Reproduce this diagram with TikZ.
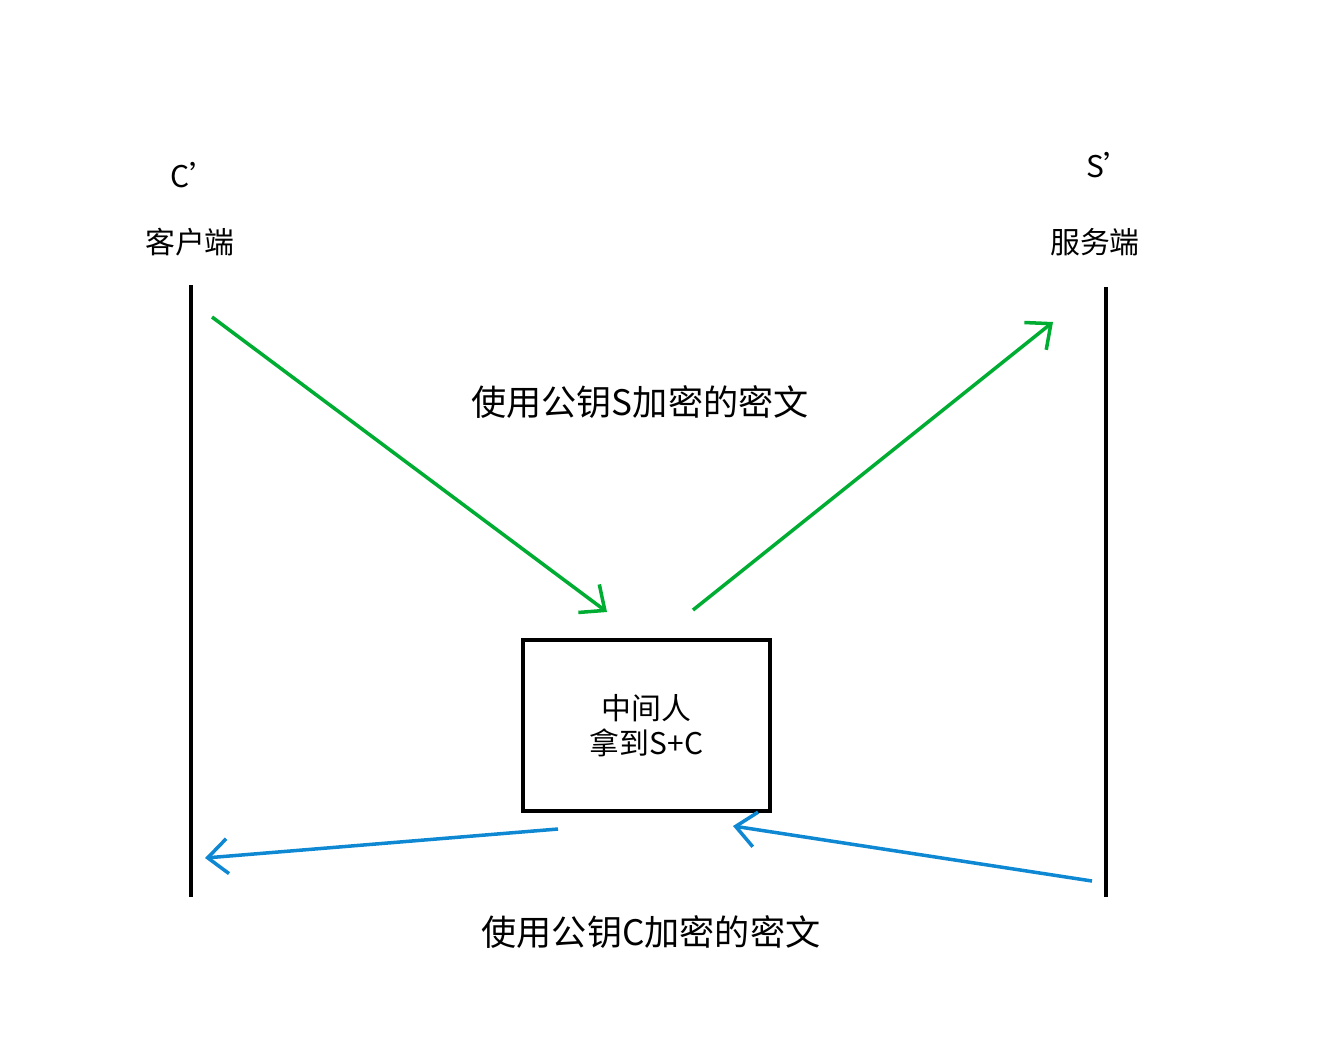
\documentclass[tikz,border=0pt]{standalone}
\usepackage{fontspec}
\setmainfont{Noto Sans CJK SC}
\usetikzlibrary{arrows.meta}
\tikzset{
  wall/.style={line width=2.5pt, black},
  green arrow/.style={line width=2pt, color=green!60!black!80!cyan, -{Straight Barb[length=4mm,width=7mm]}},
  blue arrow/.style={line width=2pt, color=cyan!70!blue, -{Straight Barb[length=4mm,width=7mm]}},
  big/.style={font=\fontsize{20}{24}\selectfont},
  mid/.style={font=\fontsize{17}{20}\selectfont}
}
\begin{document}
\begin{tikzpicture}
\useasboundingbox (0,0) rectangle (26.44,-21.06);
% sides
\node[mid] (cname) at (3.9,-3.5) {C'};
\node[mid] (clabel) at (3.8,-4.84) {客户端};
\node[mid] (sname) at (22.2,-3.3) {S'};
\node[mid] (slabel) at (21.9,-4.84) {服务端};
\coordinate (ctop) at (3.82,-5.7);
\coordinate (cbot) at (3.82,-17.94);
\coordinate (stop) at (22.12,-5.74);
\coordinate (sbot) at (22.12,-17.94);
\draw[wall] (ctop) -- (cbot);
\draw[wall] (stop) -- (sbot);
% middle man
\node[draw, line width=2.5pt, minimum width=4.94cm, minimum height=3.42cm, align=center, mid]
  (mitm) at (12.93,-14.51) {中间人\\拿到S+C};
% green arrows
\coordinate (g1) at (4.24,-6.34);
\coordinate (g2) at (12.14,-12.24);
\coordinate (g3) at (13.86,-12.2);
\coordinate (g4) at (21.06,-6.44);
\draw[green arrow] (g1) -- (g2);
\draw[green arrow] (g3) -- (g4);
\node[big] (stext) at (12.8,-8.04) {使用公钥S加密的密文};
% blue arrows
\coordinate (b1) at (11.16,-16.58);
\coordinate (b2) at (4.1,-17.16);
\coordinate (b3) at (21.84,-17.62);
\coordinate (b4) at (14.66,-16.52);
\draw[blue arrow] (b1) -- (b2);
\draw[blue arrow] (b3) -- (b4);
\node[big] (ctext) at (13.02,-18.64) {使用公钥C加密的密文};
\end{tikzpicture}
\end{document}
